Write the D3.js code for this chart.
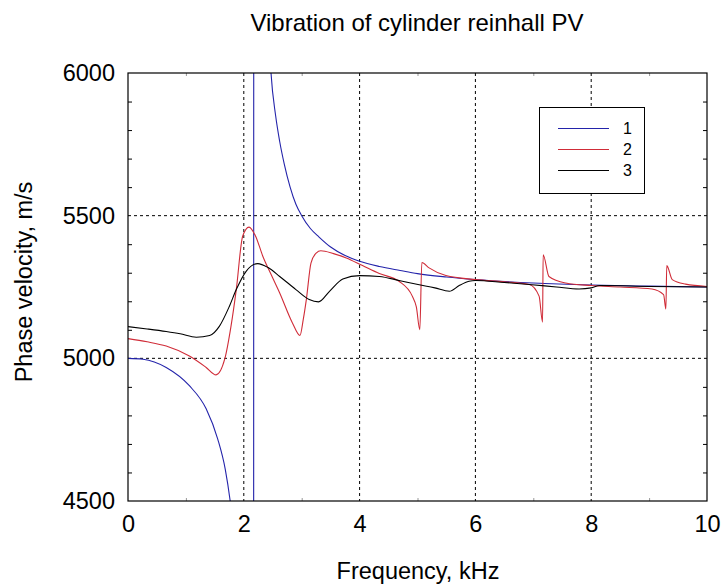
<!DOCTYPE html>
<html>
<head>
<meta charset="utf-8">
<script src="https://cdn.jsdelivr.net/npm/d3@7"></script>
<style>
  body { margin: 0; background: #fff; }
  svg text { font-family: "Liberation Sans", Arial, sans-serif; fill: #000; }
</style>
</head>
<body>
<div id="chart"></div>
<script>
// curve 1 (blue): two branches joined by the jump at the resonance
const freq1 = [0, 0.26, 0.66, 1.06, 1.35, 1.55, 1.68, 1.765, 1.85, 2.17, 2.172, 2.40, 2.47, 2.55, 2.62, 2.70, 2.80, 2.90, 3.0, 3.15, 3.3, 3.5, 3.75, 4.0, 4.34, 4.7, 5.0, 5.5, 6.0, 7.0, 8.0, 9.0, 10.0];
const vel1  = [5000, 4997, 4968, 4904, 4823, 4717, 4611, 4500, 4350, 4000, 7000, 6300, 6000, 5850, 5760, 5680, 5600, 5540, 5500, 5455, 5425, 5390, 5360, 5340, 5322, 5308, 5297, 5285, 5276, 5264, 5257, 5253, 5250];

// curve 2 (red)
const freq2 = [0, 0.33, 0.66, 1.06, 1.35, 1.52, 1.67, 1.78, 1.87, 1.98, 2.09, 2.2, 2.33, 2.48, 2.62, 2.84, 2.97, 3.03, 3.08, 3.16, 3.25, 3.33, 3.55, 3.77, 4.05, 4.34, 4.68, 4.91, 4.98, 5.04, 5.075, 5.2, 5.49, 6.0, 6.5, 6.93, 7.1, 7.16, 7.17, 7.27, 7.56, 8.0, 8.5, 9.05, 9.25, 9.29, 9.305, 9.4, 9.63, 10];
const vel2  = [5069, 5058, 5043, 5008, 4968, 4942, 4997, 5114, 5241, 5428, 5460, 5430, 5357, 5290, 5229, 5124, 5080, 5140, 5206, 5334, 5369, 5377, 5367, 5352, 5325, 5297, 5270, 5218, 5180, 5100, 5336, 5317, 5290, 5276, 5268, 5259, 5218, 5127, 5363, 5287, 5264, 5255, 5250, 5243, 5223, 5173, 5325, 5276, 5260, 5252];

// curve 3 (black)
const freq3 = [0, 0.33, 0.66, 0.9, 1.18, 1.41, 1.58, 1.75, 1.87, 2.04, 2.24, 2.42, 2.62, 2.9, 3.13, 3.29, 3.48, 3.71, 4.0, 4.34, 4.7, 5.03, 5.3, 5.55, 5.72, 5.89, 6.0, 6.5, 6.93, 7.4, 7.79, 8.0, 8.15, 9.0, 10];
const vel3  = [5111, 5103, 5094, 5086, 5074, 5080, 5113, 5182, 5241, 5305, 5332, 5318, 5287, 5241, 5206, 5198, 5235, 5278, 5290, 5287, 5272, 5258, 5247, 5235, 5255, 5270, 5273, 5266, 5259, 5250, 5243, 5247, 5255, 5252, 5250];

const seriesNames = ["1", "2", "3"];
const seriesColors = ["#2323aa", "#d02c38", "#000000"];

const xTicks = [0, 2, 4, 6, 8, 10];
const yTicks = [4500, 5000, 5500, 6000];
const xGrid = [2, 4, 6, 8];
const yGrid = [5000, 5500];

const width = 721, height = 584;
const margin = { top: 73, right: 14, bottom: 83, left: 128 };

const svg = d3.select("#chart").append("svg")
    .attr("width", width)
    .attr("height", height);

const x = d3.scaleLinear().domain([0, 10]).range([margin.left, width - margin.right]);
const y = d3.scaleLinear().domain([4500, 6000]).range([height - margin.bottom, margin.top]);

const x0 = x.range()[0], x1 = x.range()[1];
const y0 = y.range()[1], y1 = y.range()[0];

svg.append("defs").append("clipPath").attr("id", "plot")
    .append("rect")
    .attr("x", x0).attr("y", y0)
    .attr("width", x1 - x0).attr("height", y1 - y0);

// grid lines (dotted)
svg.append("g").selectAll("line").data(xGrid).join("line")
    .attr("x1", d => x(d)).attr("x2", d => x(d))
    .attr("y1", y0).attr("y2", y1)
    .attr("stroke", "#000").attr("stroke-width", 1)
    .attr("stroke-dasharray", "3,3");

svg.append("g").selectAll("line").data(yGrid).join("line")
    .attr("x1", x0).attr("x2", x1)
    .attr("y1", d => y(d)).attr("y2", d => y(d))
    .attr("stroke", "#000").attr("stroke-width", 1)
    .attr("stroke-dasharray", "3,3");

// minor ticks inside the frame
const minorY = d3.range(4600, 6000, 100).filter(v => v % 500 !== 0);
const minorX = [1, 3, 5, 7, 9];

svg.append("g").attr("transform", `translate(${x0},0)`)
    .call(d3.axisRight(y).tickValues(minorY).tickSize(4).tickFormat(""))
    .call(g => g.select(".domain").remove());
svg.append("g").attr("transform", `translate(${x1},0)`)
    .call(d3.axisLeft(y).tickValues(minorY).tickSize(4).tickFormat(""))
    .call(g => g.select(".domain").remove());
svg.append("g").attr("transform", `translate(0,${y1})`)
    .call(d3.axisTop(x).tickValues(minorX).tickSize(3).tickFormat(""))
    .call(g => g.select(".domain").remove())
    .selectAll("line").attr("stroke", "#999");
svg.append("g").attr("transform", `translate(0,${y0})`)
    .call(d3.axisBottom(x).tickValues(minorX).tickSize(3).tickFormat(""))
    .call(g => g.select(".domain").remove())
    .selectAll("line").attr("stroke", "#999");

// tick labels
svg.append("g").attr("transform", `translate(0,${y1})`)
    .call(d3.axisBottom(x).tickValues(xTicks).tickSize(0).tickPadding(14).tickFormat(d3.format("d")))
    .call(g => g.select(".domain").remove())
    .selectAll("text")
    .style("font-size", "23.5px")
    .style("font-family", "'Liberation Sans', Arial, sans-serif");

svg.append("g").attr("transform", `translate(${x0},0)`)
    .call(d3.axisLeft(y).tickValues(yTicks).tickSize(0).tickPadding(13).tickFormat(d3.format("d")))
    .call(g => g.select(".domain").remove())
    .selectAll("text")
    .style("font-size", "23.5px")
    .style("font-family", "'Liberation Sans', Arial, sans-serif");

// curves
const line = d3.line()
    .x(d => x(d[0]))
    .y(d => y(d[1]))
    .curve(d3.curveMonotoneX);

const curves = [
    d3.zip(freq1, vel1),
    d3.zip(freq2, vel2),
    d3.zip(freq3, vel3)
];

svg.append("g").attr("clip-path", "url(#plot)")
    .selectAll("path").data(curves).join("path")
    .attr("d", line)
    .attr("fill", "none")
    .attr("stroke", (d, i) => seriesColors[i])
    .attr("stroke-width", 1.1);

// frame
svg.append("rect")
    .attr("x", x0).attr("y", y0)
    .attr("width", x1 - x0).attr("height", y1 - y0)
    .attr("fill", "none")
    .attr("stroke", "#000")
    .attr("stroke-width", 1.2);

// legend
const legend = svg.append("g");
legend.append("rect")
    .attr("x", 539.5).attr("y", 107.5)
    .attr("width", 105).attr("height", 86)
    .attr("fill", "#fff").attr("stroke", "#000").attr("stroke-width", 1);

const ly = d3.scalePoint().domain(seriesNames).range([128, 170]).round(true);
legend.selectAll("line.key").data(seriesNames).join("line")
    .attr("class", "key")
    .attr("x1", 558).attr("x2", 609)
    .attr("y1", d => ly(d) + 0.5).attr("y2", d => ly(d) + 0.5)
    .attr("stroke", (d, i) => seriesColors[i])
    .attr("stroke-width", 1.2);
legend.selectAll("text").data(seriesNames).join("text")
    .attr("x", 623).attr("y", d => ly(d) + 6)
    .style("font-size", "16px")
    .text(d => d);

// titles
svg.append("text")
    .attr("x", 417).attr("y", 31)
    .attr("text-anchor", "middle")
    .style("font-size", "24px")
    .text("Vibration of cylinder reinhall PV");

svg.append("text")
    .attr("x", 418).attr("y", 579)
    .attr("text-anchor", "middle")
    .style("font-size", "23.5px")
    .text("Frequency, kHz");

svg.append("text")
    .attr("transform", "translate(32,282) rotate(-90)")
    .attr("text-anchor", "middle")
    .style("font-size", "23.5px")
    .text("Phase velocity, m/s");
</script>
</body>
</html>
